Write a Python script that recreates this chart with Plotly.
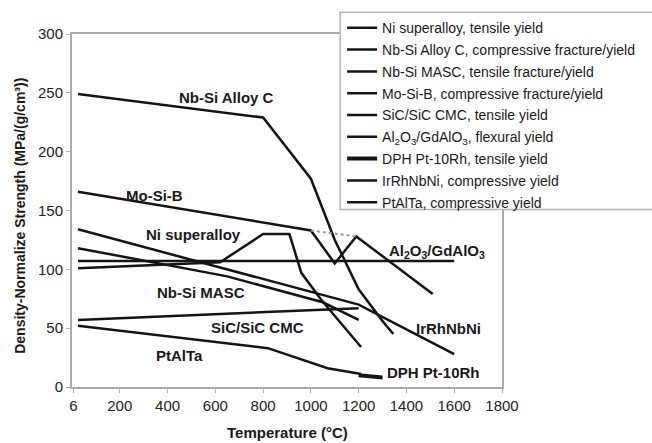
import plotly.graph_objects as go

# Temperature (°C) / density-normalized strength (MPa/(g/cm^3)) per material
t_ni = [25, 620, 800, 910, 960, 1040, 1110, 1210]
v_ni = [101, 106, 130, 130, 97, 75, 58, 34]

t_nbc = [25, 800, 1000, 1100, 1200, 1300, 1345]
v_nbc = [249, 229, 177, 125, 83, 56, 45]

t_masc = [25, 650, 1050, 1200]
v_masc = [118, 94, 72, 57]

t_mosib = [25, 1000, 1100, 1190, 1510]
v_mosib = [166, 133, 105, 128, 79]
t_mosib_yield = [1000, 1190]
v_mosib_yield = [133, 128]

t_sic = [25, 1200]
v_sic = [57, 67]

t_al = [25, 1600]
v_al = [107, 107]

t_dph = [1200, 1300]
v_dph = [10, 8]

t_ir = [25, 1200, 1600]
v_ir = [134, 70, 28]

t_ptal = [25, 820, 1070, 1210]
v_ptal = [52, 33, 16, 11]

names = [
    "Ni superalloy, tensile yield",
    "Nb-Si Alloy C, compressive fracture/yield",
    "Nb-Si MASC, tensile fracture/yield",
    "Mo-Si-B, compressive fracture/yield",
    "SiC/SiC CMC, tensile yield",
    "Al<sub>2</sub>O<sub>3</sub>/GdAlO<sub>3</sub>, flexural yield",
    "DPH Pt-10Rh, tensile yield",
    "IrRhNbNi, compressive yield",
    "PtAlTa, compressive yield",
]
series = [
    (t_ni, v_ni), (t_nbc, v_nbc), (t_masc, v_masc), (t_mosib, v_mosib),
    (t_sic, v_sic), (t_al, v_al), (t_dph, v_dph), (t_ir, v_ir), (t_ptal, v_ptal),
]

# Curve labels placed in data coordinates
label_text = ["Nb-Si Alloy C", "Mo-Si-B", "Ni superalloy", "Nb-Si MASC", "SiC/SiC CMC",
              "PtAlTa", "Al<sub>2</sub>O<sub>3</sub>/GdAlO<sub>3</sub>", "IrRhNbNi", "DPH Pt-10Rh"]
label_t = [647, 347, 508, 539, 778, 449, 1526, 1575, 1515]
label_v = [246, 163, 130, 80, 50.5, 27, 115, 50, 12.6]

x_tickvals = [6, 200, 400, 600, 800, 1000, 1200, 1400, 1600, 1800]
x_ticktext = ["6", "200", "400", "600", "800", "1000", "1200", "1400", "1600", "1800"]
y_tickvals = [0, 50, 100, 150, 200, 250, 300]

FONT = "Liberation Sans, Arial, sans-serif"
LINE = "#141414"

W, H = 652, 443
ML, MR, MT, MB = 72, 147, 31, 56
PW, PH = W - ML - MR, H - MT - MB


def px_x(px):
    """Horizontal pixel position -> paper coordinate."""
    return (px - ML) / PW


def px_y(py):
    """Vertical pixel position (from top) -> paper coordinate."""
    return (H - MB - py) / PH


fig = go.Figure()
for i, (name, (t, v)) in enumerate(zip(names, series)):
    w = 4 if name.startswith("DPH") else 2.5
    fig.add_trace(go.Scatter(x=t, y=v, mode="lines", name=name, legendgroup=f"g{i}",
                             line=dict(color=LINE, width=w)))

fig.add_trace(go.Scatter(x=t_mosib_yield, y=v_mosib_yield, mode="lines",
                         showlegend=False, hoverinfo="skip",
                         line=dict(color="#9a9a9a", width=2, dash="dot")))

for txt, t, v in zip(label_text, label_t, label_v):
    fig.add_annotation(x=t, y=v, text=f"<b>{txt}</b>", showarrow=False,
                       font=dict(family=FONT, size=15, color="#1a1a1a"))

# Axis titles
fig.add_annotation(x=0.5, y=px_y(433), xref="paper", yref="paper",
                   xanchor="center", yanchor="middle",
                   text="<b>Temperature (°C)</b>", showarrow=False,
                   font=dict(family=FONT, size=15, color="#1a1a1a"))
fig.add_annotation(x=px_x(20), y=px_y(214), xref="paper", yref="paper",
                   xanchor="center", yanchor="middle",
                   text="<b>Density-Normalize Strength (MPa/(g/cm³))</b>", showarrow=False,
                   textangle=-90, font=dict(family=FONT, size=14, color="#1a1a1a"))

# Legend frame (runs off the right edge of the page)
fig.add_shape(type="rect", xref="paper", yref="paper",
              x0=px_x(342), x1=px_x(668), y0=px_y(208), y1=px_y(9),
              line=dict(color="#b5b5b5", width=1.5), fillcolor="white", layer="above")

axis_common = dict(showgrid=False, zeroline=False, showline=True, mirror=True,
                   linecolor="#ababab", linewidth=2, ticks="outside", ticklen=4,
                   tickcolor="#ababab", automargin=False,
                   tickfont=dict(family=FONT, size=15, color="#222"))

fig.update_xaxes(range=[0, 1800], tickvals=x_tickvals, ticktext=x_ticktext, **axis_common)
fig.update_yaxes(range=[0, 300], tickvals=y_tickvals, **axis_common)

fig.update_layout(
    width=W, height=H,
    margin=dict(l=ML, r=MR, t=MT, b=MB),
    paper_bgcolor="white", plot_bgcolor="white",
    showlegend=True,
    legend=dict(x=px_x(344), y=px_y(9), xanchor="left", yanchor="top",
                bgcolor="rgba(0,0,0,0)", borderwidth=0,
                traceorder="grouped", tracegroupgap=0.6,
                font=dict(family=FONT, size=14, color="#1a1a1a")),
)

fig.write_html("out.html")
